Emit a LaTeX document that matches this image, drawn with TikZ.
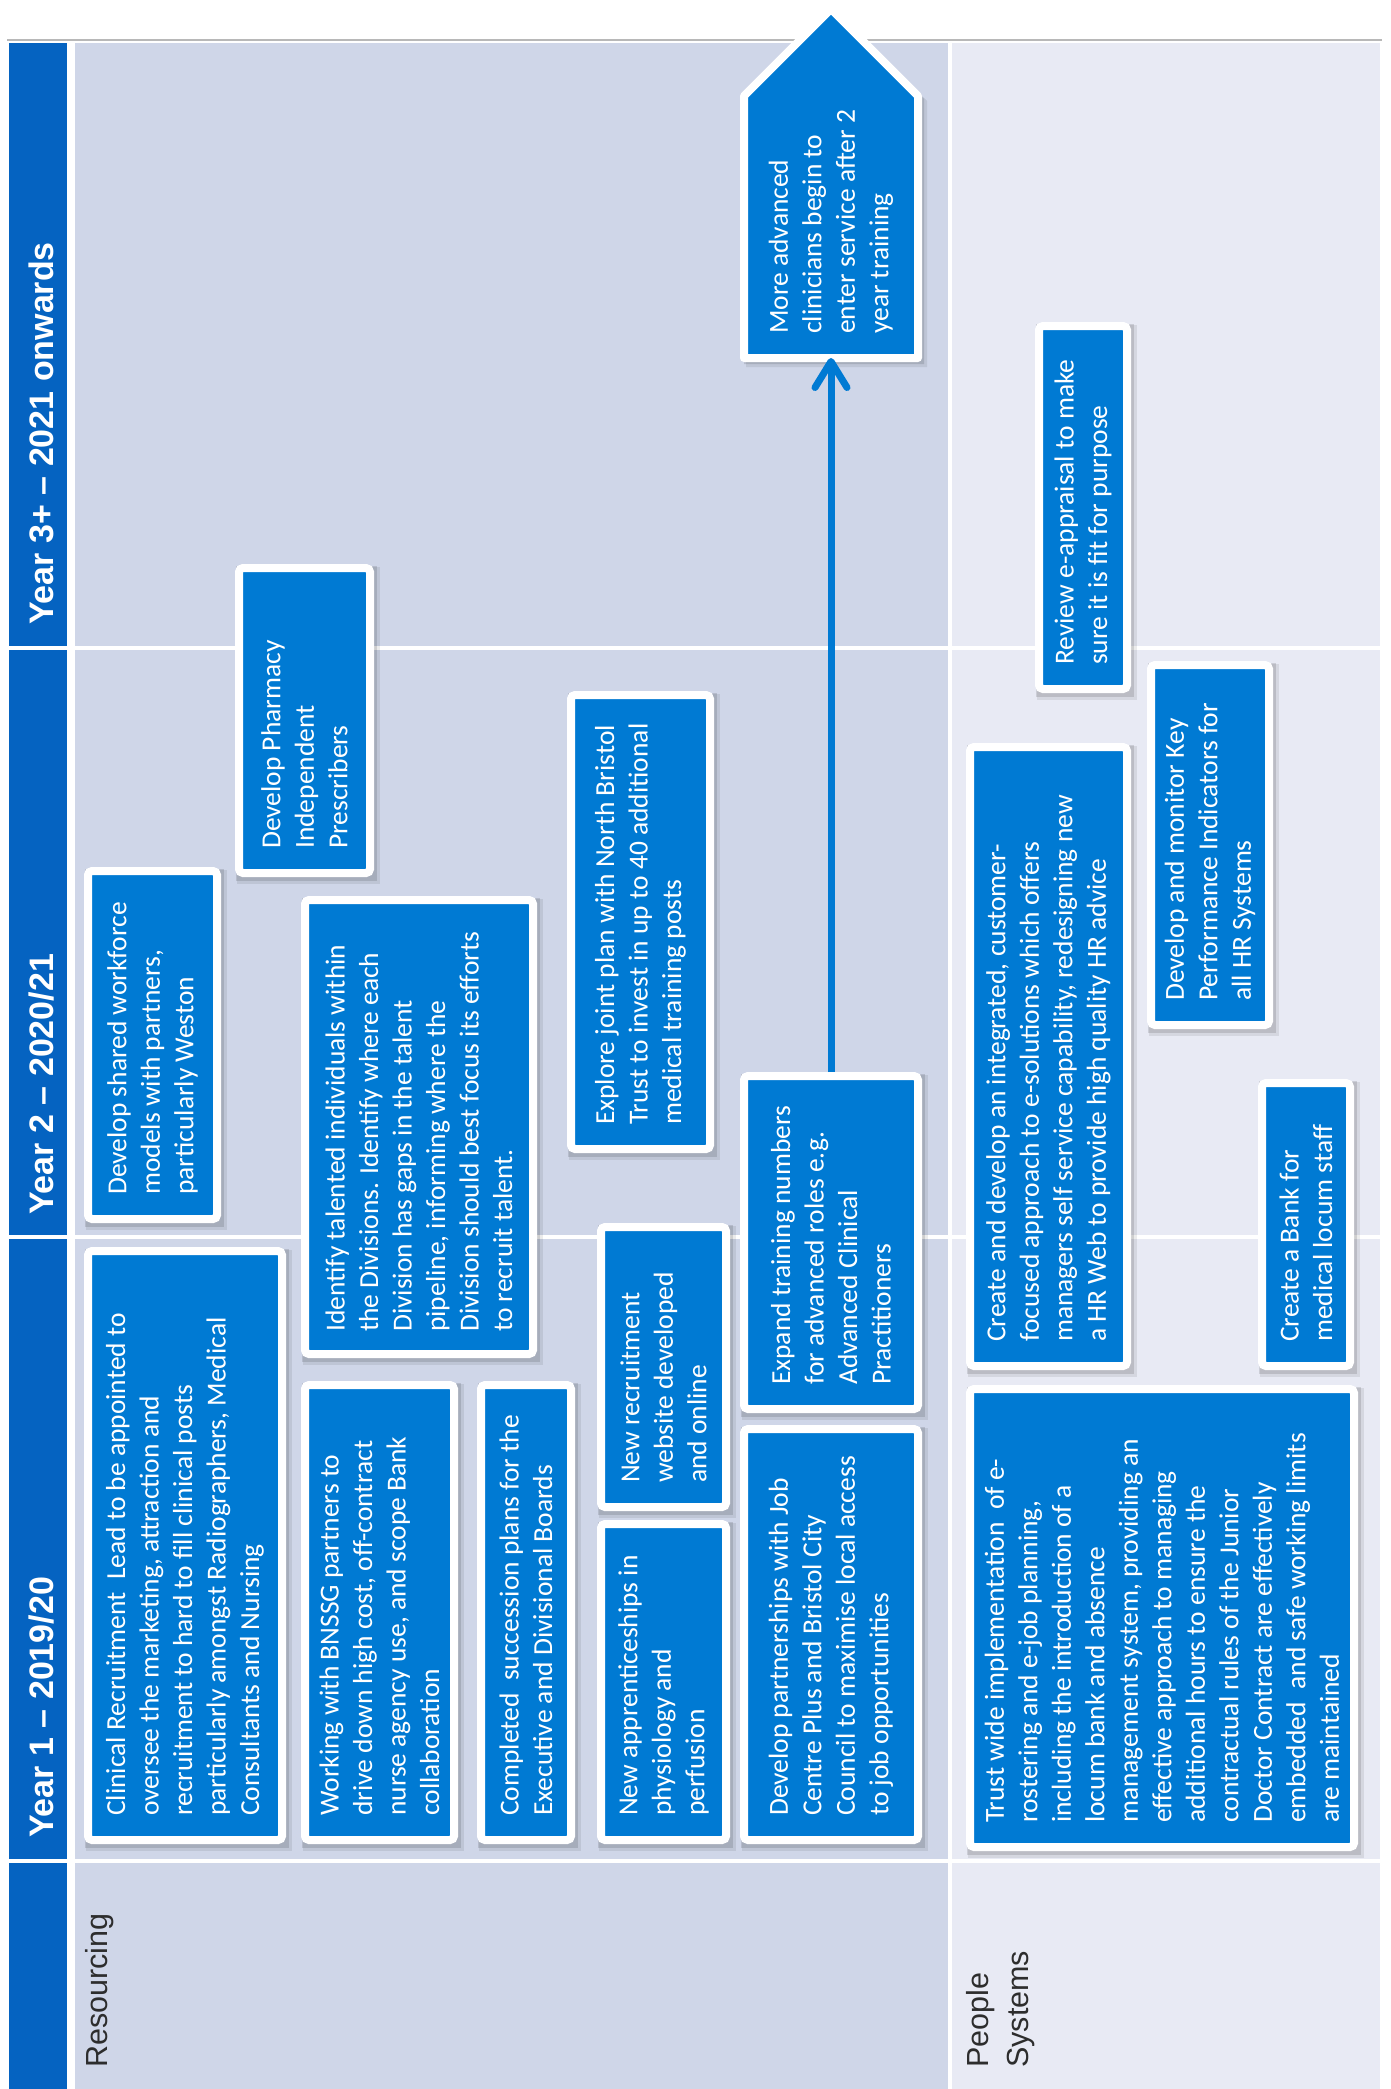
\documentclass[tikz,border=0pt]{standalone}
\usepackage{fontspec}
\setmainfont{Carlito}
\newfontfamily\labfont{Liberation Sans}
\usetikzlibrary{arrows.meta,calc}
\definecolor{boxblue}{RGB}{0,122,211}
\definecolor{stripblue}{RGB}{5,99,193}
\definecolor{resbg}{RGB}{207,214,232}
\definecolor{peobg}{RGB}{232,234,244}
\definecolor{labgray}{RGB}{45,45,45}
\newcommand{\mybox}[5]{%
  \pgfmathsetmacro{\bxw}{#4-#2-8}%
  \pgfmathsetmacro{\bxh}{#5-#3-8}%
  \pgfmathsetmacro{\bxx}{(#2+#4)/2}%
  \pgfmathsetmacro{\bxy}{(#3+#5)/2}%
  \fill[shadA] (#2+2,#3+3) rectangle (#4+6,#5+7);%
  \fill[shadB] (#2+1,#3+2) rectangle (#4+3,#5+4);%
  \node[boxs, minimum width=\bxw pt, minimum height=\bxh pt] (#1) at (\bxx,\bxy) {};%
}
\begin{document}
\begin{tikzpicture}[x=1pt,y=-1pt,
  boxs/.style={draw=white, fill=boxblue, line width=8pt, rounded corners=4pt, inner sep=0pt},
  boxtext/.style={rotate=90, anchor=west, align=left, inner sep=0pt, text=white, font=\fontsize{27.5}{33.5}\selectfont},
  shadA/.style={fill=black, opacity=0.08},
  shadB/.style={fill=black, opacity=0.12},
  yearlab/.style={rotate=90, anchor=base west, inner sep=0pt, text=white, font=\labfont\bfseries\fontsize{34}{40}\selectfont},
  rowlab/.style={rotate=90, anchor=north west, inner sep=0pt, text=labgray, align=left, font=\labfont\fontsize{30.5}{40}\selectfont},
  conn/.style={draw=boxblue, line width=7pt, -{Straight Barb[length=26pt,width=32pt,round]}},
]
\useasboundingbox (0,0) rectangle (1391,2089);
\fill[white] (0,0) rectangle (1391,2089);
% backgrounds
\fill[resbg] (75,43) rectangle (950,2089);
\fill[peobg] (950,43) rectangle (1380,2089);
\draw[white, line width=4pt] (75,647.5) -- (1380,647.5);
\draw[white, line width=4pt] (75,1237) -- (1380,1237);
\draw[white, line width=4pt] (75,1861) -- (1380,1861);
\draw[white, line width=4pt] (950,43) -- (950,2089);
\draw[black!28, line width=1.2pt] (7,40) -- (1382,40);
% year strip
\fill[stripblue] (9,43) rectangle (67,645.5);
\fill[stripblue] (9,649.5) rectangle (67,1235);
\fill[stripblue] (9,1239) rectangle (67,1859);
\fill[stripblue] (9,1863) rectangle (67,2089);
\node[yearlab] (y3) at (53,625) {Year 3+ – 2021 onwards};
\node[yearlab] (y2) at (53,1215) {Year 2 – 2020/21};
\node[yearlab] (y1) at (53,1838) {Year 1 – 2019/20};
\node[rowlab] (r1) at (85,2068) {Resourcing};
\node[rowlab] (r2) at (966,2068) {People\\Systems};

% Resourcing boxes
\mybox{b1}{84}{1247}{286}{1844}
\node[boxtext] (t1) at ($(b1.south)+(0,-28)$) {Clinical Recruitment\ \ Lead to be appointed to\\oversee the marketing, attraction and\\recruitment to hard to fill clinical posts\\particularly amongst Radiographers, Medical\\Consultants and Nursing};
\mybox{b2}{84}{867}{221}{1223}
\node[boxtext] (t2) at ($(b2.south)+(0,-28)$) {Develop shared workforce\\models with partners,\\particularly Weston};
\mybox{b3}{235}{564}{374}{877}
\node[boxtext] (t3) at ($(b3.south)+(0,-28)$) {Develop Pharmacy\\Independent\\Prescribers};
\mybox{b4}{301}{1381}{458}{1844}
\node[boxtext] (t4) at ($(b4.south)+(0,-28)$) {Working with BNSSG partners to\\drive down high cost, off-contract\\nurse agency use, and scope Bank\\collaboration};
\mybox{b5}{301}{896}{537}{1358}
\node[boxtext] (t5) at ($(b5.south)+(0,-26)$) {Identify talented individuals within\\the Divisions. Identify where each\\Division has gaps in the talent\\pipeline, informing where the\\Division should best focus its efforts\\to recruit talent.};
\mybox{b6}{477}{1381}{575}{1844}
\node[boxtext] (t6) at ($(b6.south)+(0,-28)$) {Completed\ \ succession plans for the\\Executive and Divisional Boards};
\mybox{b7}{567}{691}{714}{1153}
\node[boxtext] (t7) at ($(b7.south)+(0,-28)$) {Explore joint plan with North Bristol\\Trust to invest in up to 40 additional\\medical training posts};
\mybox{b8}{597}{1223}{730}{1511}
\node[boxtext] (t8) at ($(b8.south)+(0,-28)$) {New recruitment\\website developed\\and online};
\mybox{b9}{597}{1520}{730}{1844}
\node[boxtext] (t9) at ($(b9.south)+(0,-28)$) {New apprenticeships in\\physiology and\\perfusion};
\mybox{b10}{740}{1072}{922}{1413}
\node[boxtext] (t10) at ($(b10.south)+(0,-28)$) {Expand training numbers\\for advanced roles e.g.\\Advanced Clinical\\Practitioners};
\mybox{b11}{740}{1425}{922}{1844}
\node[boxtext] (t11) at ($(b11.south)+(0,-28)$) {Develop partnerships with Job\\Centre Plus and Bristol City\\Council to maximise local access\\to job opportunities};

% arrow-shaped box
\fill[shadA] (746,101) -- (746,367) -- (927,367) -- (927,101) -- (836,10) -- cycle;
\fill[shadB] (744,99) -- (744,364) -- (924,364) -- (924,99) -- (834,9) -- cycle;
\node[draw=none, inner sep=0pt, outer sep=0pt, minimum width=174pt, minimum height=262pt] (adv) at (831,227) {};
\filldraw[fill=boxblue, draw=white, line width=8pt, line join=round] (adv.south west) -- (adv.north west) -- ($(adv.north)+(0,-87)$) -- (adv.north east) -- (adv.south east) -- cycle;
\node[boxtext] (t12) at ($(adv.south)+(0,-24)$) {More advanced\\clinicians begin to\\enter service after 2\\year training};
\draw[conn] (b10.north) -- (adv.south);

% People Systems boxes
\mybox{b13}{1035}{322}{1131}{693}
\node[boxtext] (t13) at ($(b13.south)+(0,-28)$) {Review e-appraisal to make\\sure it is fit for purpose};
\mybox{b14}{1147}{661}{1273}{1029}
\node[boxtext] (t14) at ($(b14.south)+(0,-28)$) {Develop and monitor Key\\Performance Indicators for\\all HR Systems};
\mybox{b15}{966}{743}{1131}{1370}
\node[boxtext] (t15) at ($(b15.south)+(0,-28)$) {Create and develop an integrated, customer-\\focused approach to e-solutions which offers\\managers self service capability, redesigning new\\a HR Web to provide high quality HR advice};
\mybox{b16}{1258}{1079}{1354}{1370}
\node[boxtext] (t16) at ($(b16.south)+(0,-28)$) {Create a Bank for\\medical locum staff};
\mybox{b17}{966}{1385}{1358}{1851}
\node[boxtext] (t17) at ($(b17.south)+(0,-28)$) {Trust wide implementation\ \ of e-\\rostering and e-job planning,\\including the introduction of a\\locum bank and absence\\management system, providing an\\effective approach to managing\\additional hours to ensure the\\contractual rules of the Junior\\Doctor Contract are effectively\\embedded\ \ and safe working limits\\are maintained};
\end{tikzpicture}
\end{document}
